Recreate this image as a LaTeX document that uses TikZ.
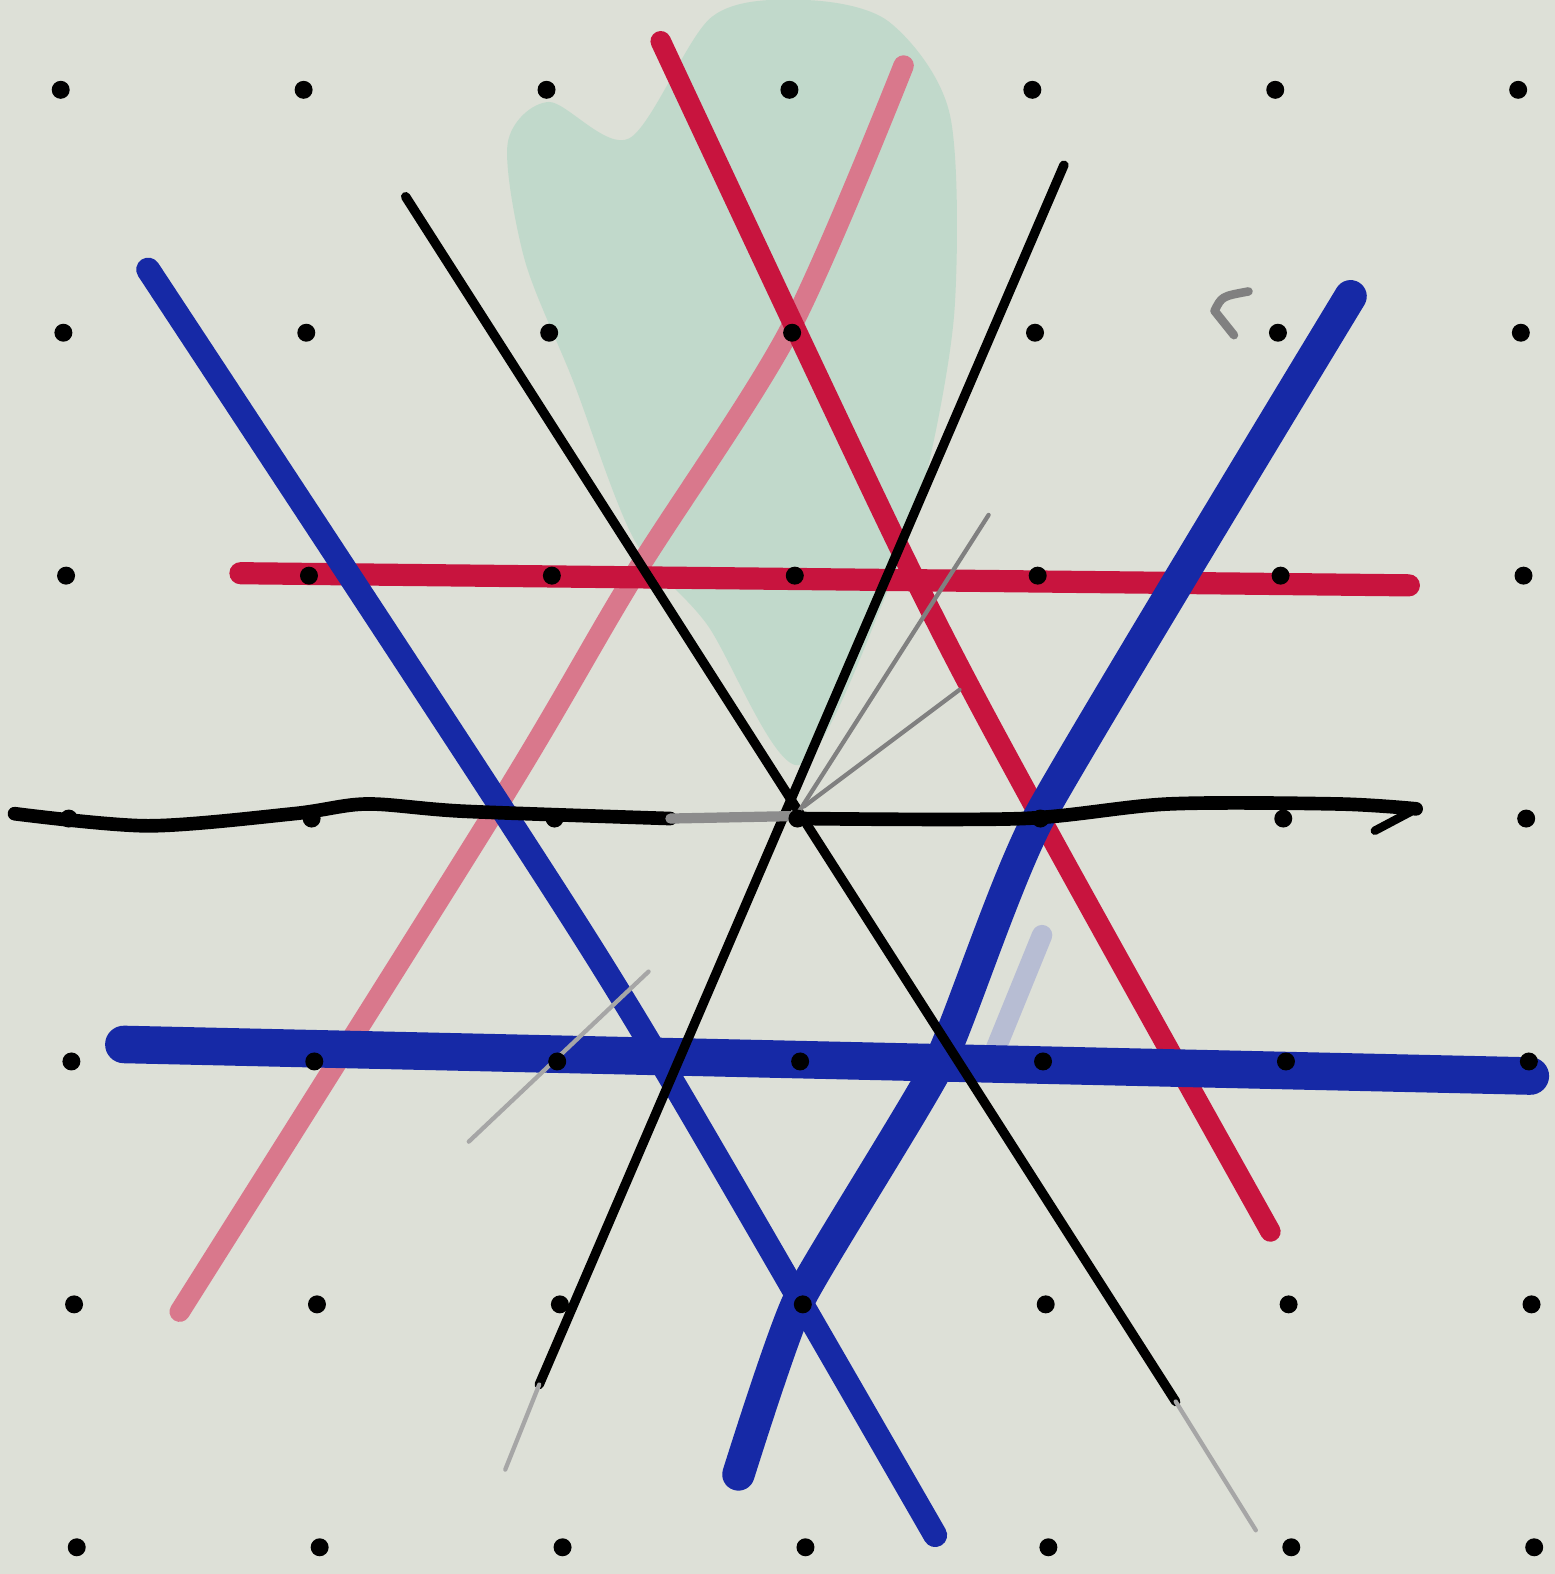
\documentclass[tikz,border=0pt]{standalone}
\definecolor{papier}{HTML}{DDE0D7}
\definecolor{blaustift}{HTML}{1629A6}
\definecolor{rotstift}{HTML}{C8143E}
\definecolor{rosastift}{HTML}{D9788C}
\definecolor{textmarker}{HTML}{86CDB2}
\usepackage{tikz}

\begin{document}
\begin{tikzpicture}[line cap=round, line join=round]
      \useasboundingbox (-3.21,-3.11) rectangle (3.19,3.37);
      \fill[papier] (-3.21,-3.11) rectangle (3.19,3.37);
      % Textmarker
      \fill[textmarker, opacity=0.32] plot[smooth cycle, tension=0.5] coordinates
        {(-1.12,2.78) (-0.95,2.95) (-0.62,2.80) (-0.28,3.30) (0.10,3.37)
         (0.45,3.28) (0.70,2.90) (0.72,2.10) (0.60,1.40) (0.45,0.95)
         (0.08,0.22) (-0.30,0.80) (-0.60,1.15) (-0.85,1.80) (-1.05,2.30)};
      % Rosa Linie
      \draw[rosastift, line width=2.4pt] plot[smooth] coordinates
        {(0.51,3.10) (0.04,2.01) (-0.60,1.00) (-1.15,0.07) (-2.47,-2.03)};
      % Rote Linien
      \draw[rotstift, line width=2.4pt] plot[smooth] coordinates
        {(-0.49,3.20) (0.51,1.08) (1.07,0.01) (2.02,-1.70)};
      \draw[rotstift, line width=2.6pt] (-2.22,1.01) -- (2.59,0.96);
      % Blaue Linien
      \draw[blaustift!55, line width=2.4pt, opacity=0.4] (1.08,-0.48) -- (0.86,-1.02);
      \draw[blaustift, line width=2.8pt] plot[smooth] coordinates
        {(-2.60,2.26) (-1.15,0.05) (-0.49,-1.00) (0.64,-2.95)};
      \draw[blaustift, line width=3.8pt] plot[smooth, tension=0.3] coordinates
        {(2.35,2.15) (1.07,0.01) (0.66,-1.00) (0.08,-1.98) (-0.17,-2.70)};
      \draw[blaustift, line width=4.4pt] (-2.70,-0.93) -- (3.09,-1.06);
      % Schwarze Linien
      \draw[line width=1.1pt] (-1.54,2.56) -- (1.63,-2.40);
      \draw[line width=1.1pt] (1.17,2.69) -- (-0.99,-2.33);
      \draw[line width=1.6pt] plot[smooth] coordinates
        {(-3.15,0.02) (-2.60,-0.03) (-2.00,0.02) (-1.70,0.06) (-1.30,0.03) (-0.45,0.00)};
      \draw[black!45, line width=1.2pt] (-0.45,0.00) -- (0.05,0.01);
      \draw[line width=1.6pt] plot[smooth] coordinates
        {(0.10,0.00) (1.00,0.00) (1.60,0.06) (2.30,0.06) (2.62,0.04)};
      \draw[line width=1pt] (2.62,0.04) -- (2.45,-0.05);
      % Bleistift
      \draw[gray, line width=0.5pt] (0.08,0.03) -- (0.86,1.25);
      \draw[gray, line width=0.5pt] (0.10,0.05) -- (0.74,0.53);
      \draw[gray!70, line width=0.5pt] (-0.54,-0.63) -- (-1.28,-1.33);
      \draw[gray!70, line width=0.5pt] (1.63,-2.40) -- (1.96,-2.93);
      \draw[gray!70, line width=0.5pt] (-0.99,-2.33) -- (-1.13,-2.68);
      \draw[gray, line width=1pt] (1.93,2.17) .. controls (1.82,2.15) .. (1.79,2.09)
        -- (1.87,1.99);
      % Punkte
      \foreach \i in {-3,...,3}
        \foreach \j in {-3,...,3}
          \fill ({\i+0.04+0.011*(3-\j)},\j) circle (0.037);
\end{tikzpicture}
\end{document}
